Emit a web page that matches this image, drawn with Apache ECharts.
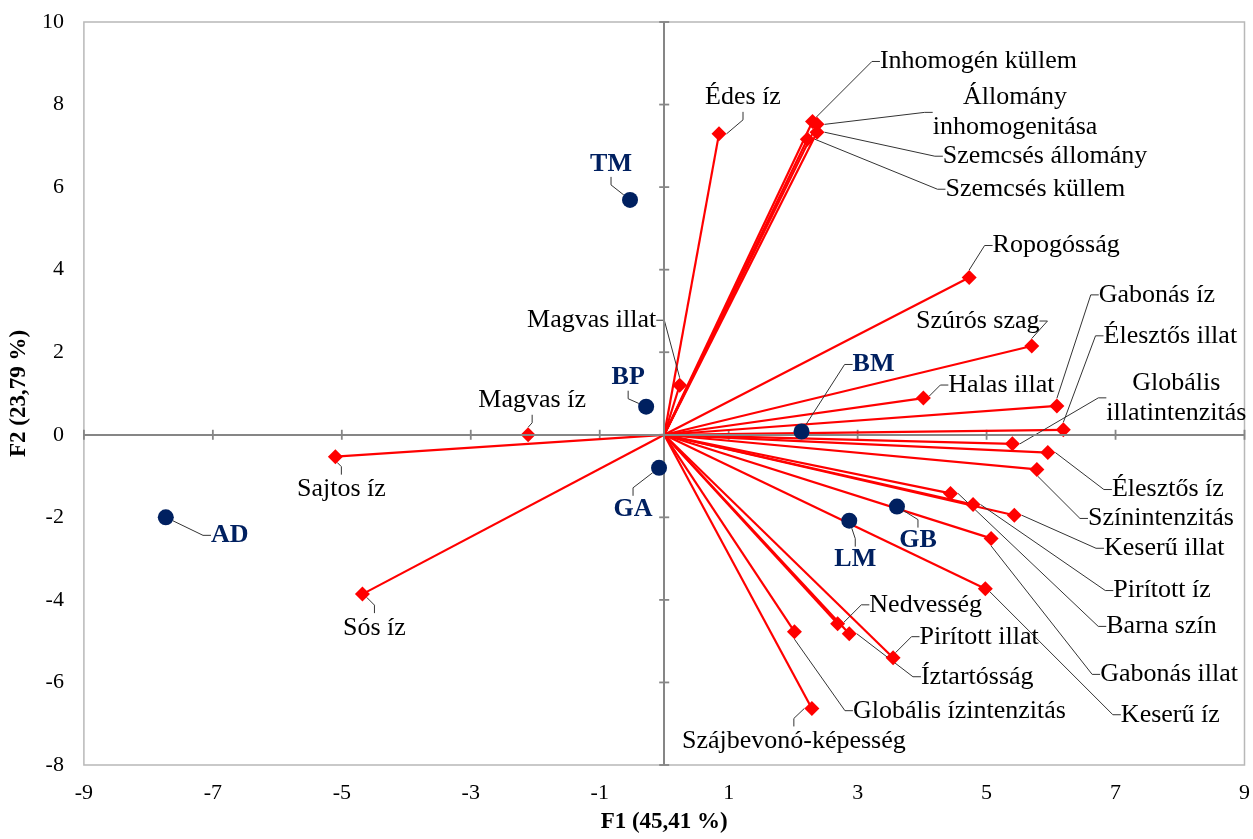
<!DOCTYPE html>
<html><head><meta charset="utf-8">
<script src="https://cdn.jsdelivr.net/npm/echarts@6/dist/echarts.min.js"></script>
<style>html,body{margin:0;padding:0;background:#fff}#c{width:1253px;height:839px}</style>
</head><body><div id="c"></div>
<script>
// Variables (loadings), red diamonds
const varNames = ['Édes íz','Inhomogén küllem','Állomány\ninhomogenitása','Szemcsés állomány','Szemcsés küllem','Magvas illat','Magvas íz','Sajtos íz','Sós íz','Ropogósság','Szúrós szag','Halas illat','Gabonás íz','Élesztős illat','Globális\nillatintenzitás','Élesztős íz','Színintenzitás','Keserű illat','Pirított íz','Barna szín','Gabonás illat','Keserű íz','Nedvesség','Pirított illat','Íztartósság','Globális ízintenzitás','Szájbevonó-képesség'];
const varF1 = [0.85, 2.30, 2.37, 2.37, 2.22, 0.24, -2.11, -5.10, -4.68, 4.73, 5.70, 4.02, 6.09, 6.19, 5.40, 5.95, 5.78, 5.43, 4.79, 4.44, 5.07, 4.98, 2.69, 3.55, 2.87, 2.02, 2.29];
const varF2 = [7.29, 7.59, 7.52, 7.33, 7.16, 1.20, 0.00, -0.53, -3.86, 3.81, 2.15, 0.89, 0.70, 0.12, -0.22, -0.43, -0.84, -1.95, -1.69, -1.42, -2.51, -3.73, -4.58, -5.40, -4.82, -4.77, -6.63];

// Samples (scores), navy circles
const smpNames = ['TM','BP','GA','AD','BM','LM','GB'];
const smpF1 = [-0.53, -0.28, -0.08, -7.73, 2.13, 2.87, 3.61];
const smpF2 = [5.69, 0.68, -0.80, -2.00, 0.08, -2.08, -1.74];

// Tick values
const xTicks = [-9,-7,-5,-3,-1,1,3,5,7,9];
const yTicks = [-8,-6,-4,-2,0,2,4,6,8,10];

// Label offsets in pixels (label centre relative to its point)
const varLabelDx = [24,166,198,228,228,-88,4,6,12,87,-54,78,100,107,164,120,124,150,189,211,178,185,88,86,128,165,-18];
const varLabelDy = [-37,-60,-12,24,50,-65,-35,33,34,-32,-25,-13,-111,-94,-46,37,49,33,86,133,136,126,-19,-21,43,79,33];
const smpLabelDx = [-19,-18,-26,64,72,6,21];
const smpLabelDy = [-36,-29,41,18,-67,39,34];

const FONT = "'Liberation Serif','Times New Roman',serif";
const chart = echarts.init(document.getElementById('c'));

function layoutFrom(dxArr, dyArr) {
  return function (p) {
    const cx = p.rect.x + p.rect.width / 2;
    const cy = p.rect.y + p.rect.height / 2;
    return { x: cx + dxArr[p.dataIndex], y: cy + dyArr[p.dataIndex], align: 'center', verticalAlign: 'middle' };
  };
}

chart.setOption({
  animation: false,
  grid: { left: 82, right: 8, top: 22, bottom: 70, show: true, borderColor: '#b8b8b8', borderWidth: 1.5, backgroundColor: 'transparent' },
  xAxis: {
    type: 'value', min: -9, max: 9, interval: 2,
    axisLine: { show: false, onZero: false }, axisTick: { show: false }, splitLine: { show: false },
    axisLabel: { fontFamily: FONT, fontSize: 22, color: '#000', margin: 17 },
    name: 'F1 (45,41 %)', nameLocation: 'middle', nameGap: 46,
    nameTextStyle: { fontFamily: FONT, fontSize: 23, fontWeight: 'bold', color: '#000' }
  },
  yAxis: {
    type: 'value', min: -8, max: 10, interval: 2,
    axisLine: { show: false, onZero: false }, axisTick: { show: false }, splitLine: { show: false },
    axisLabel: { fontFamily: FONT, fontSize: 22, color: '#000', margin: 20 },
    name: 'F2 (23,79 %)', nameLocation: 'middle', nameGap: 50,
    nameTextStyle: { fontFamily: FONT, fontSize: 23, fontWeight: 'bold', color: '#000' }
  },
  series: [
    {
      type: 'scatter', silent: true, z: 1,
      symbol: 'rect',
      data: xTicks.map(t => ({ value: [t, 0], symbolSize: [1.8, 10] }))
        .concat(yTicks.map(t => ({ value: [0, t], symbolSize: [10, 1.8] }))),
      itemStyle: { color: '#868686', opacity: 1 },
      markLine: {
        silent: true, symbol: 'none', label: { show: false },
        lineStyle: { color: '#868686', width: 2, type: 'solid', opacity: 1 },
        data: [{ xAxis: 0 }, { yAxis: 0 }]
      }
    },
    {
      type: 'lines', coordinateSystem: 'cartesian2d', silent: true, z: 3,
      lineStyle: { color: '#ff0000', width: 2.2, opacity: 1 },
      data: varF1.map((x, i) => ({ coords: [[0, 0], [x, varF2[i]]] }))
    },
    {
      type: 'scatter', z: 4, symbol: 'diamond', symbolSize: 15,
      itemStyle: { color: '#ff0000', opacity: 1 },
      emphasis: { disabled: true },
      data: varF1.map((x, i) => ({ value: [x, varF2[i]], name: varNames[i] })),
      label: { show: true, formatter: '{b}', fontFamily: FONT, fontSize: 26, color: '#000', lineHeight: 30 },
      labelLine: { show: true, length2: 8, lineStyle: { color: '#333', width: 1, opacity: 1 } },
      labelLayout: layoutFrom(varLabelDx, varLabelDy)
    },
    {
      type: 'scatter', z: 5, symbol: 'circle', symbolSize: 16,
      itemStyle: { color: '#002060', opacity: 1 },
      emphasis: { disabled: true },
      data: smpF1.map((x, i) => ({ value: [x, smpF2[i]], name: smpNames[i] })),
      label: { show: true, formatter: '{b}', fontFamily: FONT, fontSize: 26, fontWeight: 'bold', color: '#002060' },
      labelLine: { show: true, length2: 8, lineStyle: { color: '#333', width: 1, opacity: 1 } },
      labelLayout: layoutFrom(smpLabelDx, smpLabelDy)
    }
  ]
});
</script>
</body></html>
